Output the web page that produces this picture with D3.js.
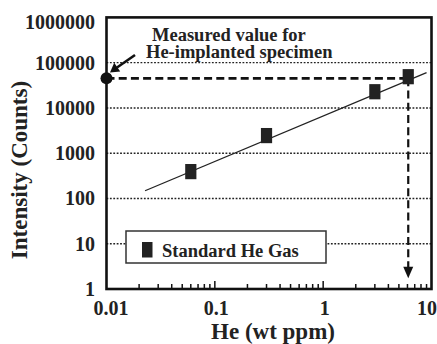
<!DOCTYPE html>
<html>
<head>
<meta charset="utf-8">
<script src="https://cdn.jsdelivr.net/npm/d3@7"></script>
<style>
  body { margin: 0; background: #fff; }
  text { font-family: "Liberation Serif", "Times New Roman", serif; font-weight: bold; fill: #222; }
</style>
</head>
<body>
<div id="chart"></div>
<script>
// He calibration plot - intensity vs He concentration (log-log)

// standard He gas points
const heConc    = [0.06, 0.3, 3.0, 6.1];
const intensity = [392, 2450, 22800, 49000];

// fitted line end points
const fitHe        = [0.0227, 9.0];
const fitIntensity = [148, 60000];

// measured value for the implanted specimen
const measuredIntensity = 45000;
const measuredHe        = 6.1;

const xTicks      = [0.01, 0.1, 1, 10];
const xTickLabels = ["0.01", "0.1", "1", "10"];
const yTicks      = [1, 10, 100, 1000, 10000, 100000, 1000000];
const yTickLabels = ["1", "10", "100", "1000", "10000", "100000", "1000000"];
const gridValues  = [10, 100, 1000, 10000, 100000];

const width = 437, height = 344;
const margin = { top: 17.4, right: 5.5, bottom: 55, left: 106.5 };

const svg = d3.select("#chart").append("svg")
  .attr("width", width)
  .attr("height", height);

const x = d3.scaleLog().domain([0.01, 10]).range([margin.left, width - margin.right]);
const y = d3.scaleLog().domain([1, 1e6]).range([height - margin.bottom, margin.top]);

// ── dotted grid ────────────────────────────────────────────────
svg.append("g").selectAll("line")
  .data(gridValues)
  .join("line")
  .attr("x1", x(0.01)).attr("x2", x(10))
  .attr("y1", d => y(d)).attr("y2", d => y(d))
  .attr("stroke", "#222")
  .attr("stroke-width", 1.4)
  .attr("stroke-dasharray", "1.8,1.6");

// ── legend box (white, covers grid) ────────────────────────────
const legend = svg.append("g").attr("transform", "translate(126,231)");
legend.append("rect")
  .attr("width", 200).attr("height", 32)
  .attr("fill", "#fff")
  .attr("stroke", "#333")
  .attr("stroke-width", 1.5);
legend.append("rect")
  .attr("x", 16).attr("y", 11)
  .attr("width", 10.5).attr("height", 15.5)
  .attr("fill", "#222");
legend.append("text")
  .attr("x", 36).attr("y", 25.5)
  .style("font-size", "18.5px")
  .text("Standard He Gas");

// ── fit line ──────────────────────────────────────────────────
svg.append("line")
  .attr("x1", x(fitHe[0])).attr("y1", y(fitIntensity[0]))
  .attr("x2", x(fitHe[1])).attr("y2", y(fitIntensity[1]))
  .attr("stroke", "#222")
  .attr("stroke-width", 1.3);

// ── measured value dashed guides ───────────────────────────────
svg.append("line")
  .attr("x1", x(0.01)).attr("x2", x(measuredHe))
  .attr("y1", y(measuredIntensity)).attr("y2", y(measuredIntensity))
  .attr("stroke", "#111")
  .attr("stroke-width", 2.6)
  .attr("stroke-dasharray", "8,4.2");

const arrowTip = y(1) - 10.7;
svg.append("line")
  .attr("x1", x(measuredHe)).attr("x2", x(measuredHe))
  .attr("y1", y(measuredIntensity)).attr("y2", arrowTip - 10)
  .attr("stroke", "#111")
  .attr("stroke-width", 2.2)
  .attr("stroke-dasharray", "8,4.2");

svg.append("path")
  .attr("d", `M${x(measuredHe) - 5},${arrowTip - 11.5} L${x(measuredHe) + 5},${arrowTip - 11.5} L${x(measuredHe)},${arrowTip} Z`)
  .attr("fill", "#111");

// ── data squares ──────────────────────────────────────────────
svg.append("g").selectAll("rect")
  .data(heConc.map((h, i) => ({ h, v: intensity[i] })))
  .join("rect")
  .attr("x", d => x(d.h) - 5.6)
  .attr("y", d => y(d.v) - 7.6)
  .attr("width", 11.2)
  .attr("height", 15.2)
  .attr("fill", "#222");

// ── frame + ticks ─────────────────────────────────────────────
svg.append("rect")
  .attr("x", x(0.01)).attr("y", y(1e6))
  .attr("width", x(10) - x(0.01))
  .attr("height", y(1) - y(1e6))
  .attr("fill", "none")
  .attr("stroke", "#111")
  .attr("stroke-width", 2.6);

const minorTicks = x.ticks().filter(t => !xTicks.some(m => Math.abs(m - t) / t < 1e-6));
svg.append("g").selectAll("line")
  .data(minorTicks)
  .join("line")
  .attr("x1", d => x(d)).attr("x2", d => x(d))
  .attr("y1", y(1)).attr("y2", y(1) - 5)
  .attr("stroke", "#111").attr("stroke-width", 1.5);

svg.append("g").selectAll("line")
  .data(xTicks.slice(1, -1))
  .join("line")
  .attr("x1", d => x(d)).attr("x2", d => x(d))
  .attr("y1", y(1)).attr("y2", y(1) - 8)
  .attr("stroke", "#111").attr("stroke-width", 1.5);

// tick labels
svg.append("g").selectAll("text")
  .data(xTicks)
  .join("text")
  .attr("x", (d, i) => x(d) + (i === 0 ? 4.5 : i === xTicks.length - 1 ? -4.5 : 1.5))
  .attr("y", 315)
  .attr("text-anchor", "middle")
  .style("font-size", "20px")
  .text((d, i) => xTickLabels[i]);

svg.append("g").selectAll("text")
  .data(yTicks)
  .join("text")
  .attr("x", 95)
  .attr("y", d => Math.max(y(d) + 7, 28.5))
  .attr("text-anchor", "end")
  .style("font-size", "20px")
  .text((d, i) => yTickLabels[i]);

// axis titles
svg.append("text")
  .attr("x", 273).attr("y", 338.5)
  .attr("text-anchor", "middle")
  .style("font-size", "23px")
  .text("He (wt ppm)");

svg.append("text")
  .attr("transform", "translate(26.5,170) rotate(-90)")
  .attr("text-anchor", "middle")
  .style("font-size", "23px")
  .text("Intensity (Counts)");

// ── annotation ────────────────────────────────────────────────
svg.append("text")
  .attr("x", 152).attr("y", 41)
  .style("font-size", "18.5px")
  .text("Measured value for");
svg.append("text")
  .attr("x", 146).attr("y", 57.5)
  .style("font-size", "18.5px")
  .text("He-implanted specimen");

svg.append("line")
  .attr("x1", 135).attr("y1", 55)
  .attr("x2", 117).attr("y2", 67.5)
  .attr("stroke", "#111")
  .attr("stroke-width", 2.6);
svg.append("path")
  .attr("d", "M110,72.5 L114.2,62.8 L120.2,71.5 Z")
  .attr("fill", "#111");

svg.append("circle")
  .attr("cx", x(0.01))
  .attr("cy", y(measuredIntensity))
  .attr("r", 6)
  .attr("fill", "#111");
</script>
</body>
</html>
